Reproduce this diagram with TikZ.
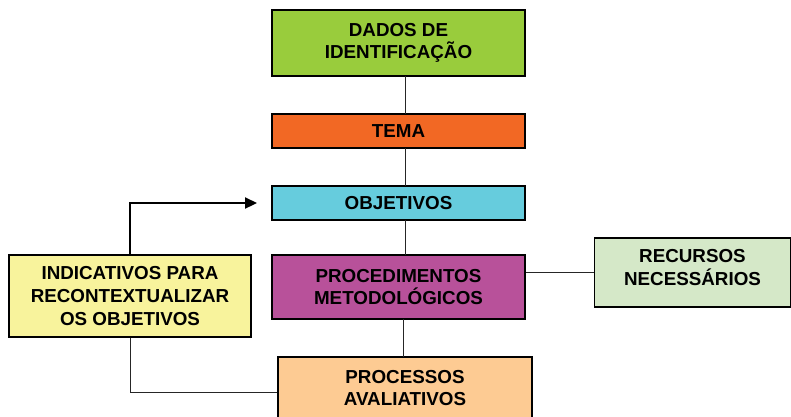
\documentclass[tikz,border=0pt]{standalone}
\usepackage{fontspec}
\setmainfont{Liberation Sans}
\usetikzlibrary{arrows.meta}
\definecolor{cgreen}{HTML}{99CC3C}
\definecolor{corange}{HTML}{F26824}
\definecolor{ccyan}{HTML}{66CCDD}
\definecolor{cmag}{HTML}{B8519A}
\definecolor{clgreen}{HTML}{D5E8C8}
\definecolor{cyellow}{HTML}{F8F39C}
\definecolor{cpeach}{HTML}{FDCB93}
\begin{document}
\begin{tikzpicture}[x=1pt,y=-1pt,
  box/.style={draw=black, line width=1.2pt, inner sep=0pt, align=center,
    font=\fontsize{18.8}{22.7}\selectfont\bfseries},
  txt/.style={inner sep=0pt, align=center, font=\fontsize{18.8}{22.7}\selectfont\bfseries},
  link/.style={draw=black!85, line width=0.9pt}]
\useasboundingbox (0,0) rectangle (791,416);
\node[box, fill=cgreen, minimum width=253, minimum height=66] (dados) at (398.5,43) {DADOS DE\\IDENTIFICAÇÃO};
\node[box, fill=corange, minimum width=253, minimum height=34] (tema) at (398.5,131) {TEMA};
\node[box, fill=ccyan, minimum width=253, minimum height=34] (obj) at (398.5,203) {OBJETIVOS};
\node[box, fill=cmag, minimum width=253, minimum height=64] (proc) at (398.5,287) {PROCEDIMENTOS\\METODOLÓGICOS};
\node[box, fill=clgreen, minimum width=196, minimum height=69] (rec) at (692.5,272.5) {};
\node[txt] (rect) at (692.5,267.5) {RECURSOS\\NECESSÁRIOS};
\node[box, fill=cyellow, minimum width=242, minimum height=82] (ind) at (130,296) {INDICATIVOS PARA\\RECONTEXTUALIZAR\\OS OBJETIVOS};
\node[box, fill=cpeach, minimum width=254, minimum height=70] (pav) at (405,392) {};
\node[txt] (pavt) at (405,388) {PROCESSOS\\AVALIATIVOS};
\coordinate (tip) at (257,203);
\coordinate (corner) at (130,203);
\coordinate (low) at (130,392);
\draw[link] (405,76) -- (405,114);
\draw[link] (405,148) -- (405,186);
\draw[link] (405,220) -- (405,255);
\draw[link] (403,319) -- (403,357);
\draw[link] (proc.east |- 0,272) -- (rec.west |- 0,272);
\draw[link] (ind.south) -- (low) -- (pav.west |- low);
\draw[line width=2.2pt, -{Triangle[length=12pt,width=11pt]}] (ind.north) -- (corner) -- (tip);
\end{tikzpicture}
\end{document}
